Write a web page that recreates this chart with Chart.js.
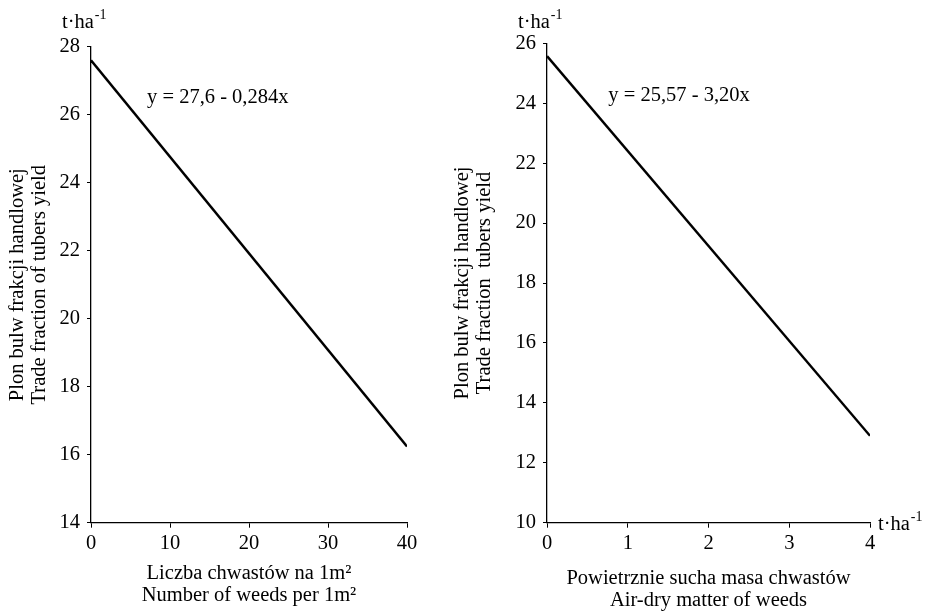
<!DOCTYPE html>
<html>
<head>
<meta charset="utf-8">
<script src="https://cdn.jsdelivr.net/npm/chart.js@4.4.0/dist/chart.umd.min.js"></script>
<style>
  html, body { margin: 0; padding: 0; background: #fff; }
  #wrap { position: relative; width: 925px; height: 612px; }
  #weedsChart { position: absolute; left: 0; top: 0; }
  #massChart { position: absolute; left: 445px; top: 0; }
</style>
</head>
<body>
<div id="wrap">
  <canvas id="weedsChart" width="445" height="612"></canvas>
  <canvas id="massChart" width="480" height="612"></canvas>
</div>
<script>
// === DATA ===
const weedsCount = [0, 40];
const yieldByWeeds = [27.6, 16.24];
const weedsTicks = [0, 10, 20, 30, 40];
const yieldTicksLeft = [14, 16, 18, 20, 22, 24, 26, 28];

const weedsMass = [0, 4];
const yieldByMass = [25.57, 12.9];
const massTicks = [0, 1, 2, 3, 4];
const yieldTicksRight = [10, 12, 14, 16, 18, 20, 22, 24, 26];

const yTitle = "Plon bulw frakcji handlowej";
const FONT = "Liberation Serif";
const SIZE = 20.5;

// draws "t·ha" with a raised "-1"
function drawUnit(ctx, x, y) {
  ctx.save();
  ctx.fillStyle = "#000";
  ctx.textBaseline = "alphabetic";
  ctx.textAlign = "left";
  ctx.font = SIZE + "px '" + FONT + "'";
  ctx.fillText("t·ha", x, y);
  const w = ctx.measureText("t·ha").width;
  ctx.font = "14px '" + FONT + "'";
  ctx.fillText("-1", x + w + 1, y - 9);
  ctx.restore();
}

// equation text + unit labels, placed from the scales
const labelsPlugin = {
  id: "labels",
  afterDraw(chart, args, opts) {
    const { ctx, scales } = chart;
    ctx.save();
    ctx.fillStyle = "#000";
    ctx.font = SIZE + "px '" + FONT + "'";
    ctx.textBaseline = "middle";
    ctx.textAlign = "left";
    ctx.fillText(opts.eq, scales.x.getPixelForValue(opts.eqX), scales.y.getPixelForValue(opts.eqY));
    ctx.restore();
    drawUnit(ctx, scales.y.right - 29, 28);
    if (opts.xUnit) drawUnit(ctx, scales.x.right + 8, chart.chartArea.bottom + 7);
  },
};

function makeOptions(cfg) {
  return {
    responsive: false,
    animation: false,
    layout: { padding: { top: cfg.top, right: cfg.right, left: 0, bottom: 0 } },
    plugins: {
      legend: { display: false },
      tooltip: { enabled: false },
      labels: cfg.labels,
    },
    scales: {
      x: {
        type: "linear",
        min: cfg.xTicks[0],
        max: cfg.xTicks[cfg.xTicks.length - 1],
        afterBuildTicks: (s) => { s.ticks = cfg.xTicks.map((v) => ({ value: v })); },
        afterFit: (s) => { s.height = 612 - cfg.bottom; },
        border: { color: "#000", width: 1.3 },
        grid: { drawOnChartArea: false, tickLength: 5, color: "#000" },
        ticks: { color: "#000", padding: 4, font: { family: FONT, size: SIZE }, maxRotation: 0 },
        title: {
          display: true,
          text: cfg.xTitle,
          color: "#000",
          font: { family: FONT, size: SIZE, lineHeight: 1.07 },
          padding: { top: 0, bottom: cfg.xTitlePad },
        },
      },
      y: {
        type: "linear",
        min: cfg.yTicks[0],
        max: cfg.yTicks[cfg.yTicks.length - 1],
        afterBuildTicks: (s) => { s.ticks = cfg.yTicks.map((v) => ({ value: v })); },
        afterFit: (s) => { s.width = cfg.yWidth; },
        border: { color: "#000", width: 1.3 },
        grid: { drawOnChartArea: false, tickLength: 4, color: "#000" },
        ticks: { color: "#000", padding: 7, font: { family: FONT, size: SIZE } },
        title: {
          display: true,
          text: cfg.yTitle,
          color: "#000",
          font: { family: FONT, size: SIZE, lineHeight: 1.07 },
          padding: { top: 7, bottom: 0 },
        },
      },
    },
  };
}

// === CHART 1: YIELD vs NUMBER OF WEEDS ===
new Chart(document.getElementById("weedsChart"), {
  type: "scatter",
  data: {
    datasets: [{
      data: weedsCount.map((x, i) => ({ x, y: yieldByWeeds[i] })),
      showLine: true,
      borderColor: "#000",
      borderWidth: 2.5,
      pointRadius: 0,
    }],
  },
  options: makeOptions({
    top: 46.7,
    right: 38,
    bottom: 522.7,
    yWidth: 91,
    xTicks: weedsTicks,
    yTicks: yieldTicksLeft,
    xTitle: ["Liczba chwastów na 1m²", "Number of weeds per 1m²"],
    xTitlePad: 5,
    yTitle: [yTitle, "Trade fraction of tubers yield"],
    labels: { eq: "y = 27,6 - 0,284x", eqX: 7.1, eqY: 26.5, xUnit: false },
  }),
  plugins: [labelsPlugin],
});

// === CHART 2: YIELD vs AIR-DRY MATTER OF WEEDS ===
new Chart(document.getElementById("massChart"), {
  type: "scatter",
  data: {
    datasets: [{
      data: weedsMass.map((x, i) => ({ x, y: yieldByMass[i] })),
      showLine: true,
      borderColor: "#000",
      borderWidth: 2.5,
      pointRadius: 0,
    }],
  },
  options: makeOptions({
    top: 43.3,
    right: 55,
    bottom: 522.7,
    yWidth: 102,
    xTicks: massTicks,
    yTicks: yieldTicksRight,
    xTitle: ["Powietrznie sucha masa chwastów", "Air-dry matter of weeds"],
    xTitlePad: 0,
    yTitle: [yTitle, "Trade fraction  tubers yield"],
    labels: { eq: "y = 25,57 - 3,20x", eqX: 0.76, eqY: 24.27, xUnit: true },
  }),
  plugins: [labelsPlugin],
});
</script>
</body>
</html>
